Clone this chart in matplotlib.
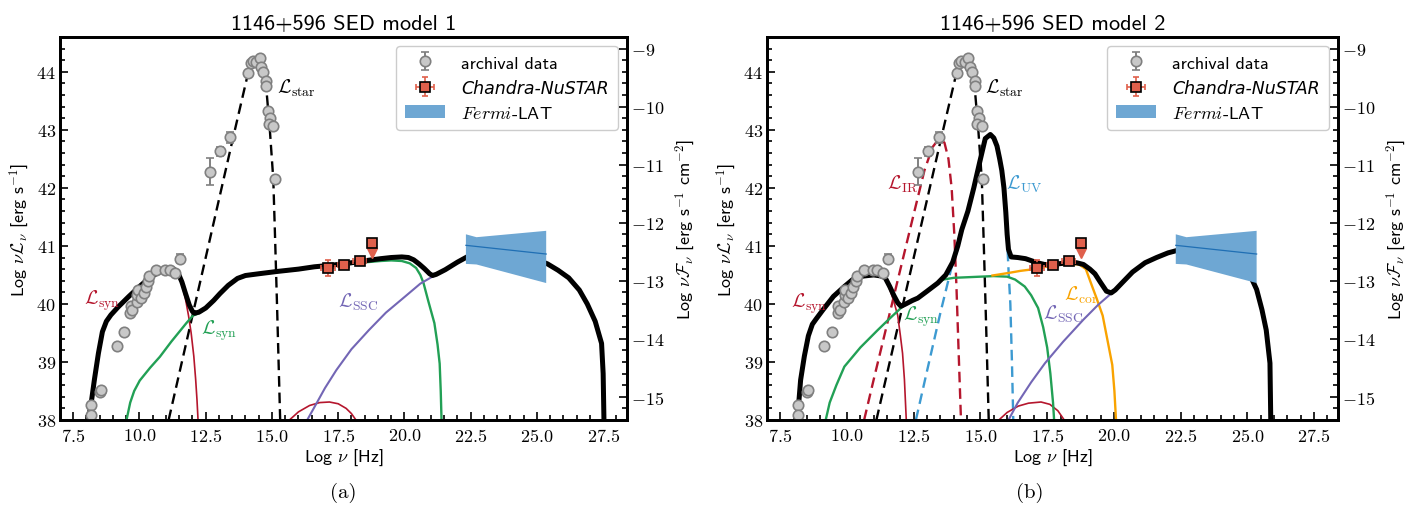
import numpy as np
import matplotlib
matplotlib.use("Agg")
import matplotlib.pyplot as plt
from matplotlib.ticker import MultipleLocator, FuncFormatter

plt.rcParams["mathtext.fontset"] = "cm"
plt.rcParams["font.family"] = "cmss10"
plt.rcParams["axes.formatter.use_mathtext"] = True

# ---- observed data (Log nu [Hz], Log nuL_nu [erg/s]) ----
arch_nu = [8.17, 8.17, 8.51, 8.54, 9.15, 9.42, 9.66, 9.67, 9.72, 9.89, 9.91, 9.94,
           10.05, 10.16, 10.24, 10.33, 10.36, 10.62, 10.97, 11.14, 11.33, 11.54,
           12.67, 13.05, 13.43, 14.11, 14.19, 14.28, 14.41, 14.53, 14.6, 14.68,
           14.78, 14.78, 14.86, 14.93, 14.88, 15.04, 15.1]
arch_lum = [38.25, 38.09, 38.48, 38.52, 39.27, 39.51, 39.84, 39.96, 39.9, 40.04, 40.16, 40.24,
            40.1, 40.19, 40.3, 40.39, 40.48, 40.59, 40.59, 40.59, 40.53, 40.78,
            42.28, 42.63, 42.87, 43.98, 44.16, 44.18, 44.17, 44.23, 44.09, 43.99,
            43.85, 43.75, 43.32, 43.2, 43.1, 43.06, 42.16]
arch_err = [0, 0, 0, 0, 0, 0, 0, 0, 0, 0, 0, 0.04,
            0.05, 0.05, 0, 0, 0, 0, 0, 0, 0.04, 0.08,
            0.23, 0.08, 0.1, 0, 0, 0, 0, 0, 0, 0,
            0, 0, 0.05, 0, 0, 0, 0]

cn_nu = [17.11, 17.7, 18.31]
cn_lum = [40.62, 40.67, 40.74]
cn_xerr = [0.27, 0.2, 0.25]
cn_yerr = [0.13, 0.03, 0.04]
ul_nu = [18.76]
ul_lum = [41.05]

lat_nu = [22.32, 22.72, 25.35, 25.35, 22.72, 22.32]
lat_lum = [41.2, 41.15, 41.26, 40.36, 40.68, 40.69]
lat_line_nu = [22.32, 25.35]
lat_line_lum = [41.01, 40.86]

# ---- model 1 ----
star_nu = [11.1, 11.5, 12.0, 12.5, 13.0, 13.5, 14.1, 14.3, 14.5, 14.65, 14.78, 14.92,
           15.05, 15.12, 15.19, 15.25, 15.31]
star_lum = [38.0, 38.8, 39.8, 40.8, 41.8, 42.8, 43.98, 44.18, 44.23, 44.12, 43.75, 43.0,
            42.15, 41.1, 40.0, 39.0, 38.0]

m1_tot_nu = [8.07, 8.18, 8.3, 8.45, 8.6, 8.75, 8.92, 9.2, 9.6, 10.0, 10.43, 10.8, 11.1,
             11.3, 11.45, 11.6, 11.73, 11.88, 12.0, 12.08, 12.25, 12.5, 12.8, 13.04, 13.35,
             13.7, 14.0, 14.5, 15.2, 16.0, 16.6, 17.3, 18.0, 18.6, 19.1, 19.5, 19.9, 20.15,
             20.35, 20.55, 20.75, 20.95, 21.06, 21.2, 21.54, 22.0, 22.4, 22.9, 23.45, 23.9,
             24.3, 24.8, 25.4, 25.8, 26.2, 26.6, 26.9, 27.2, 27.44, 27.5, 27.53]
m1_tot_lum = [38.0, 38.3, 38.7, 39.15, 39.52, 39.7, 39.81, 39.95, 40.13, 40.3, 40.47, 40.56, 40.6,
              40.6, 40.54, 40.38, 40.19, 39.98, 39.87, 39.84, 39.86, 39.93, 40.06, 40.18, 40.32,
              40.44, 40.49, 40.52, 40.56, 40.6, 40.64, 40.67, 40.71, 40.75, 40.78, 40.8, 40.81, 40.8,
              40.76, 40.69, 40.61, 40.52, 40.49, 40.51, 40.59, 40.72, 40.82, 40.9, 40.95, 40.93,
              40.88, 40.8, 40.69, 40.58, 40.45, 40.24, 40.0, 39.7, 39.32, 38.8, 38.0]

m1_syn_nu = [8.07, 8.18, 8.3, 8.45, 8.6, 8.75, 8.92, 9.2, 9.6, 10.0, 10.43, 10.8, 11.1, 11.3,
             11.45, 11.6, 11.73, 11.85, 11.95, 12.05, 12.12, 12.17, 12.21]
m1_syn_lum = [38.0, 38.3, 38.7, 39.15, 39.52, 39.7, 39.81, 39.95, 40.13, 40.3, 40.47, 40.56, 40.6, 40.59,
              40.52, 40.34, 40.1, 39.8, 39.5, 39.1, 38.7, 38.35, 38.0]

m1_syn2_nu = [9.51, 9.65, 9.8, 10.01, 10.4, 10.77, 11.2, 11.77, 12.02, 12.25, 12.5, 12.8, 13.04,
              13.35, 13.7, 14.0, 14.5, 15.2, 16.0, 16.6, 17.3, 18.0, 18.6, 19.1, 19.5, 19.9,
              20.2, 20.44, 20.6, 20.72, 20.9, 21.13, 21.25, 21.33, 21.37, 21.4]
m1_syn2_lum = [38.0, 38.3, 38.5, 38.68, 38.9, 39.09, 39.35, 39.67, 39.8, 39.84, 39.92, 40.05, 40.17,
               40.31, 40.43, 40.48, 40.51, 40.55, 40.59, 40.63, 40.66, 40.69, 40.72, 40.74, 40.75, 40.74,
               40.7, 40.62, 40.5, 40.36, 40.05, 39.67, 39.3, 38.97, 38.5, 38.0]

m1_ssc_nu = [16.33, 16.6, 17.0, 17.43, 18.0, 18.66, 19.3, 20.03, 20.6, 21.13, 21.54, 22.0, 22.4,
             22.9, 23.45, 23.9, 24.3, 24.8, 25.4, 25.8, 26.2, 26.6, 26.9, 27.2, 27.44, 27.5, 27.53]
m1_ssc_lum = [38.0, 38.22, 38.55, 38.86, 39.22, 39.55, 39.85, 40.13, 40.35, 40.49, 40.58, 40.71, 40.81,
              40.89, 40.94, 40.92, 40.87, 40.79, 40.68, 40.57, 40.44, 40.23, 39.99, 39.69, 39.31, 38.8, 38.0]

m1_hump_nu = [15.66, 16.0, 16.42, 16.8, 17.17, 17.5, 17.8, 18.0, 18.17]
m1_hump_lum = [38.0, 38.14, 38.25, 38.3, 38.31, 38.28, 38.2, 38.11, 38.0]

# ---- model 2 ----
m2_tot_nu = [8.12, 8.2, 8.26, 8.4, 8.55, 8.7, 8.84, 9.1, 9.49, 9.9, 10.21, 10.6, 11.0, 11.3,
             11.43, 11.6, 11.75, 11.9, 12.02, 12.2, 12.45, 12.65, 13.0, 13.4, 13.7, 13.96, 14.15,
             14.3, 14.53, 14.75, 14.97, 15.18, 15.37, 15.5, 15.62, 15.72, 15.8, 15.88, 15.95, 16.0,
             16.05, 16.15, 16.4, 16.69, 17.13, 17.4, 17.7, 18.28, 18.6, 18.86, 19.1, 19.29, 19.5,
             19.72, 19.9, 20.05, 20.3, 20.7, 21.17, 21.6, 22.03, 22.6, 23.33, 23.7, 24.05, 24.4,
             24.77, 25.1, 25.35, 25.55, 25.71, 25.85, 25.88]
m2_tot_lum = [38.0, 38.35, 38.69, 39.1, 39.45, 39.65, 39.74, 39.9, 40.13, 40.3, 40.42, 40.48, 40.5, 40.48,
              40.45, 40.3, 40.15, 40.02, 39.96, 40.0, 40.06, 40.1, 40.22, 40.36, 40.5, 40.72, 41.0,
              41.28, 41.6, 42.0, 42.44, 42.85, 42.92, 42.86, 42.72, 42.5, 42.3, 42.0, 41.58, 41.2,
              40.94, 40.81, 40.8, 40.78, 40.71, 40.68, 40.68, 40.71, 40.71, 40.68, 40.6, 40.52, 40.37,
              40.22, 40.19, 40.24, 40.36, 40.55, 40.71, 40.8, 40.88, 40.95, 41.0, 40.98, 40.94, 40.85,
              40.71, 40.5, 40.25, 39.9, 39.55, 38.98, 38.0]

m2_syn_nu = [8.12, 8.2, 8.26, 8.4, 8.55, 8.7, 8.84, 9.1, 9.49, 9.9, 10.21, 10.6, 11.0, 11.3,
             11.43, 11.6, 11.75, 11.9, 12.0, 12.08, 12.15, 12.22]
m2_syn_lum = [38.0, 38.35, 38.69, 39.1, 39.45, 39.65, 39.74, 39.9, 40.13, 40.3, 40.42, 40.48, 40.5, 40.47,
              40.43, 40.25, 40.05, 39.8, 39.45, 39.15, 38.7, 38.0]

m2_syn2_nu = [9.2, 9.35, 9.6, 9.9, 10.5, 11.15, 11.6, 12.02, 12.3, 12.65, 13.0, 13.3, 13.6, 14.0,
              15.0, 15.5, 16.0, 16.3, 16.66, 16.9, 17.16, 17.35, 17.5, 17.62, 17.72, 17.76]
m2_syn2_lum = [38.0, 38.3, 38.6, 38.92, 39.25, 39.55, 39.75, 39.93, 40.02, 40.1, 40.22, 40.34, 40.42, 40.45,
               40.47, 40.48, 40.47, 40.42, 40.3, 40.15, 39.93, 39.6, 39.25, 38.8, 38.3, 38.0]

m2_cor_nu = [15.45, 16.0, 16.5, 16.84, 17.2, 17.7, 18.3, 18.7, 18.95, 19.14, 19.35, 19.58, 19.75,
             19.94, 20.02, 20.08]
m2_cor_lum = [40.49, 40.53, 40.57, 40.59, 40.62, 40.66, 40.69, 40.68, 40.6, 40.36, 40.1, 39.8, 39.4,
              38.95, 38.5, 38.0]

m2_ssc_nu = [16.05, 16.4, 16.9, 17.42, 18.1, 18.86, 19.4, 19.9, 20.05, 20.3, 20.7, 21.17, 21.6,
             22.03, 22.6, 23.33, 23.7, 24.05, 24.4, 24.77, 25.1, 25.35, 25.55, 25.71, 25.85, 25.88]
m2_ssc_lum = [38.0, 38.3, 38.65, 38.98, 39.35, 39.73, 39.98, 40.18, 40.23, 40.35, 40.54, 40.7, 40.79,
              40.87, 40.94, 40.99, 40.97, 40.93, 40.84, 40.7, 40.49, 40.24, 39.89, 39.54, 38.97, 38.0]

m2_ir_nu = [10.64, 11.0, 11.5, 12.0, 12.5, 12.9, 13.2, 13.45, 13.65, 13.8, 13.92, 14.02, 14.1,
            14.18, 14.27]
m2_ir_lum = [38.0, 38.7, 39.65, 40.6, 41.55, 42.3, 42.7, 42.85, 42.78, 42.5, 42.0, 41.2, 40.3,
             39.2, 38.0]

m2_uv_nu = [12.58, 13.0, 13.5, 13.9, 14.15, 14.3, 14.53, 14.75, 14.97, 15.18, 15.37, 15.5, 15.62,
            15.72, 15.8, 15.88, 15.95, 16.0, 16.05, 16.12, 16.18, 16.23]
m2_uv_lum = [38.0, 38.85, 39.85, 40.6, 40.95, 41.25, 41.58, 41.98, 42.42, 42.83, 42.9, 42.84, 42.7,
             42.48, 42.28, 41.98, 41.55, 41.1, 40.6, 40.0, 39.0, 38.0]

m2_hump_nu = [15.69, 16.0, 16.42, 16.8, 17.27, 17.6, 17.9, 18.14]
m2_hump_lum = [38.0, 38.13, 38.24, 38.29, 38.31, 38.27, 38.16, 38.0]

DIST_MOD = 53.4   # Log 4 pi d^2

C_SYN = "#b5162d"
C_SYN2 = "#22a055"
C_SSC = "#7366b5"
C_COR = "#f9a300"
C_UV = "#3d9ad1"
C_LAT = "#6ea7d3"
C_CN = "#e0604c"


def draw_data(ax):
    ax.fill(lat_nu, lat_lum, color=C_LAT, lw=0, label=r"$Fermi$-LAT", zorder=3)
    ax.plot(lat_line_nu, lat_line_lum, color="#1f6fb4", lw=0.9, zorder=3)
    ax.errorbar(arch_nu, arch_lum, yerr=arch_err, fmt="o", ms=7.5, mfc="#c8c8c8",
                mec="#808080", mew=1.2, ecolor="#808080", elinewidth=1.4, capsize=3,
                capthick=1.4, label="archival data", zorder=6)
    ax.errorbar(cn_nu, cn_lum, xerr=cn_xerr, yerr=cn_yerr, fmt="s", ms=7.5, mfc=C_CN,
                mec="k", mew=1.2, ecolor=C_CN, elinewidth=1.2, capsize=2.5, capthick=1.2,
                label="Chandra-NuSTAR", zorder=7)
    ax.errorbar(ul_nu, ul_lum, fmt="s", ms=7.5, mfc=C_CN, mec="k", mew=1.2, zorder=7)
    for x, y in zip(ul_nu, ul_lum):
        ax.plot([x, x], [y, y - 0.14], color=C_CN, lw=1.5, zorder=6)
        ax.plot([x], [y - 0.17], marker="v", ms=7, color=C_CN, zorder=6)


def style_axes(ax):
    ax.set_xlim(7.0, 28.4)
    ax.set_ylim(38.0, 44.6)
    ax.xaxis.set_major_locator(MultipleLocator(2.5))
    ax.xaxis.set_minor_locator(MultipleLocator(0.5))
    ax.yaxis.set_major_locator(MultipleLocator(1))
    ax.yaxis.set_minor_locator(MultipleLocator(0.2))
    ax.xaxis.set_major_formatter(FuncFormatter(lambda v, p: "$%.1f$" % v))
    ax.yaxis.set_major_formatter(FuncFormatter(lambda v, p: "$%d$" % round(v)))
    ax.tick_params(which="both", direction="in", labelsize=13, width=1.2)
    ax.tick_params(which="major", length=6)
    ax.tick_params(which="minor", length=3.5)
    ax.tick_params(axis="y", right=False, pad=3)
    ax.tick_params(axis="x", pad=5)
    for s in ax.spines.values():
        s.set_linewidth(2)
    ax.set_xlabel(r"Log $\nu$ [Hz]", fontsize=13, labelpad=2)
    ax.set_ylabel(r"Log $\nu\mathcal{L}_\nu$ [erg s$^{-1}$]", fontsize=13, labelpad=4)

    ax2 = ax.twinx()
    ax2.set_ylim(38.0 - DIST_MOD, 44.6 - DIST_MOD)
    ax2.yaxis.set_major_locator(MultipleLocator(1))
    ax2.yaxis.set_minor_locator(MultipleLocator(0.2))
    ax2.yaxis.set_major_formatter(FuncFormatter(lambda v, p: "$%d$" % round(v)))
    ax2.tick_params(which="both", direction="in", labelsize=13, width=1.2, pad=3)
    ax2.tick_params(which="major", length=6)
    ax2.tick_params(which="minor", length=3.5)
    ax2.set_ylabel(r"Log $\nu\mathcal{F}_\nu$ [erg s$^{-1}$ cm$^{-2}$]", fontsize=13, labelpad=6)
    for s in ax2.spines.values():
        s.set_linewidth(2)

    handles, labels = ax.get_legend_handles_labels()
    order = [labels.index("archival data"), labels.index("Chandra-NuSTAR"),
             labels.index(r"$Fermi$-LAT")]
    leg = ax.legend([handles[i] for i in order], [labels[i] for i in order],
                    loc="upper right", fontsize=13, frameon=True, fancybox=True,
                    edgecolor="#cccccc", framealpha=1, borderpad=0.5, labelspacing=0.45,
                    handlelength=2.2, handletextpad=0.9, borderaxespad=0.5)
    leg.get_texts()[1].set_fontfamily("DejaVu Sans")
    leg.get_texts()[1].set_fontstyle("italic")
    leg.get_texts()[1].set_fontsize(12.5)
    leg.set_zorder(10)


fig = plt.figure(figsize=(14.14, 5.06), dpi=100)
ax1 = fig.add_axes([60 / 1414, 85 / 506, 567 / 1414, 383 / 506])
ax2 = fig.add_axes([767 / 1414, 85 / 506, 571 / 1414, 383 / 506])

# model 1
ax1.plot(star_nu, star_lum, "k--", lw=1.7, dashes=(4.5, 2.5))
ax1.plot(m1_syn_nu, m1_syn_lum, color=C_SYN, lw=1.2)
ax1.plot(m1_hump_nu, m1_hump_lum, color=C_SYN, lw=1.2)
ax1.plot(m1_syn2_nu, m1_syn2_lum, color=C_SYN2, lw=1.7)
ax1.plot(m1_ssc_nu, m1_ssc_lum, color=C_SSC, lw=1.5)
ax1.plot(m1_tot_nu, m1_tot_lum, color="k", lw=3.6, solid_capstyle="butt")
draw_data(ax1)
ax1.text(15.19, 43.74, r"$\mathcal{L}_{\rm star}$", fontsize=14, va="center")
ax1.text(7.9, 40.07, r"$\mathcal{L}_{\rm syn}$", fontsize=14, va="center", color=C_SYN)
ax1.text(12.34, 39.55, r"$\mathcal{L}_{\rm syn}$", fontsize=14, va="center", color=C_SYN2)
ax1.text(17.48, 40.04, r"$\mathcal{L}_{\rm SSC}$", fontsize=14, va="center", color=C_SSC)
style_axes(ax1)
ax1.set_title("1146+596 SED model 1", fontsize=16, pad=6)

# model 2
ax2.plot(star_nu, star_lum, "k--", lw=1.7, dashes=(4.5, 2.5))
ax2.plot(m2_ir_nu, m2_ir_lum, "--", color=C_SYN, lw=1.7, dashes=(4.5, 2.5))
ax2.plot(m2_uv_nu, m2_uv_lum, "--", color=C_UV, lw=1.7, dashes=(4.5, 2.5))
ax2.plot(m2_syn_nu, m2_syn_lum, color=C_SYN, lw=1.2)
ax2.plot(m2_hump_nu, m2_hump_lum, color=C_SYN, lw=1.2)
ax2.plot(m2_syn2_nu, m2_syn2_lum, color=C_SYN2, lw=1.7)
ax2.plot(m2_cor_nu, m2_cor_lum, color=C_COR, lw=1.7)
ax2.plot(m2_ssc_nu, m2_ssc_lum, color=C_SSC, lw=1.5)
ax2.plot(m2_tot_nu, m2_tot_lum, color="k", lw=3.6, solid_capstyle="butt")
draw_data(ax2)
ax2.text(15.17, 43.74, r"$\mathcal{L}_{\rm star}$", fontsize=14, va="center")
ax2.text(11.5, 42.07, r"$\mathcal{L}_{\rm IR}$", fontsize=14, va="center", color=C_SYN)
ax2.text(15.95, 42.07, r"$\mathcal{L}_{\rm UV}$", fontsize=14, va="center", color=C_UV)
ax2.text(7.9, 40.02, r"$\mathcal{L}_{\rm syn}$", fontsize=14, va="center", color=C_SYN)
ax2.text(12.08, 39.79, r"$\mathcal{L}_{\rm syn}$", fontsize=14, va="center", color=C_SYN2)
ax2.text(18.14, 40.16, r"$\mathcal{L}_{\rm cor}$", fontsize=14, va="center", color=C_COR)
ax2.text(17.35, 39.84, r"$\mathcal{L}_{\rm SSC}$", fontsize=14, va="center", color=C_SSC)
style_axes(ax2)
ax2.set_title("1146+596 SED model 2", fontsize=16, pad=6)

fig.text(0.243, 0.026, "(a)", family="cmr10", fontsize=15, ha="center", va="center")
fig.text(0.7285, 0.026, "(b)", family="cmr10", fontsize=15, ha="center", va="center")

fig.savefig("out.png", dpi=100)
